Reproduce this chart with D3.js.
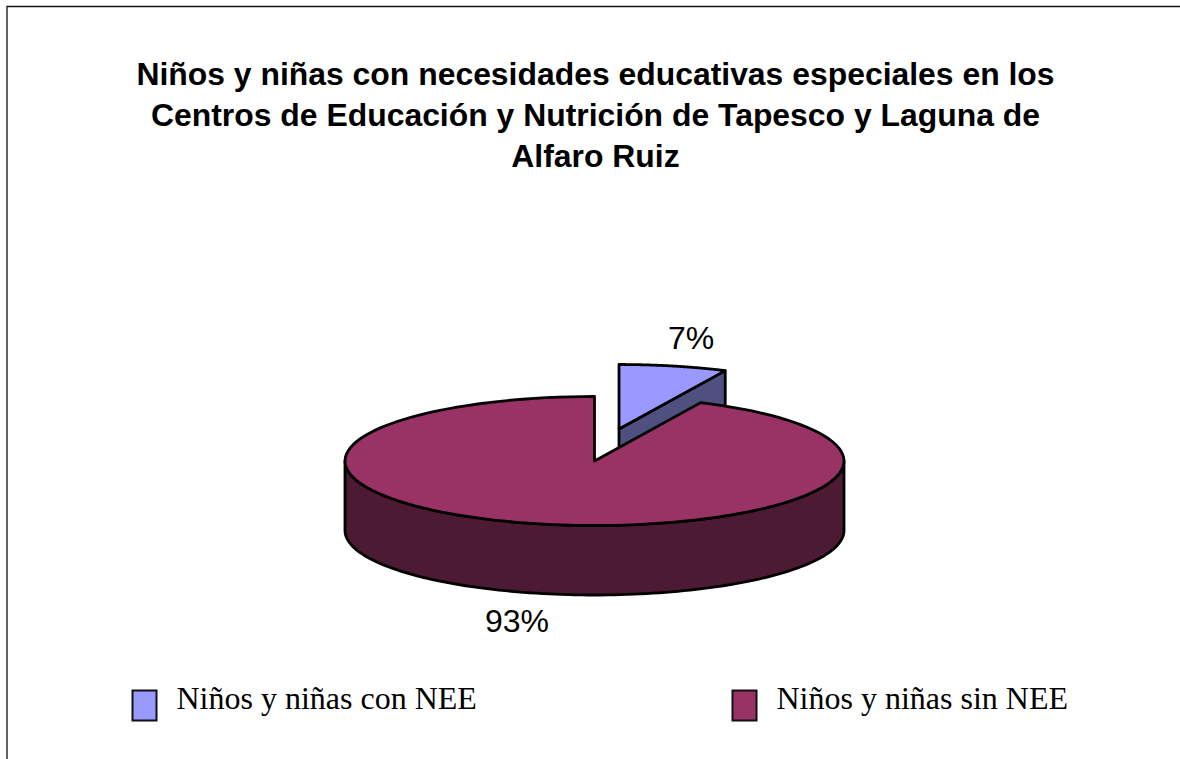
<!DOCTYPE html>
<html lang="es">
<head>
<meta charset="utf-8">
<title>Niños y niñas con NEE</title>
<script src="https://cdn.jsdelivr.net/npm/d3@7"></script>
<style>
html, body { margin: 0; padding: 0; background: #fff; }
svg { display: block; }
</style>
</head>
<body>
<svg id="chart" width="1180" height="759"></svg>
<script>
// Shares of children with and without special educational needs
const categories = ["Niños y niñas con NEE", "Niños y niñas sin NEE"];
const shares = [7, 93];
const shareLabels = ["7%", "93%"];
const topColors = ["#9999ff", "#993366"];
const sideColors = ["#4f4f80", "#4c1a33"];
const titleLines = [
  "Niños y niñas con necesidades educativas especiales en los",
  "Centros de Educación y Nutrición de Tapesco y Laguna de",
  "Alfaro Ruiz"
];

const svg = d3.select("#chart");
const ink = "#000";

// Outer frame: only the top and left edges fall inside the canvas
svg.append("path")
  .attr("d", "M7,759V6.5H1180")
  .attr("fill", "none").attr("stroke", "#111").attr("stroke-width", 1.3);

// Title
svg.append("g").selectAll("text").data(titleLines).join("text")
  .attr("x", 595.5)
  .attr("y", (d, i) => 85 + i * 41)
  .attr("text-anchor", "middle")
  .attr("font-family", "'Liberation Sans', Arial, sans-serif")
  .attr("font-weight", "bold")
  .attr("font-size", 31.9)
  .attr("fill", "#000")
  .text(d => d);

// Tilted pie: angles come from d3.pie, radii are squashed through two scales
const center = { x: 594.5, y: 461 };
const depth = 69.5;
const explode = { dx: 24.5, dy: -32 };
const rx = d3.scaleLinear().domain([0, 1]).range([0, 249.5]);
const ry = d3.scaleLinear().domain([0, 1]).range([0, 64.5]);

const slices = d3.pie().sort(null)(shares);

const project = (angle, ox, oy, drop = 0) => [
  ox + rx(Math.sin(angle)),
  oy - ry(Math.cos(angle)) + drop
];

const rimPoints = (a0, a1, ox, oy, drop = 0) =>
  d3.range(0, 121).map(i => project(a0 + (a1 - a0) * i / 120, ox, oy, drop));

const line = d3.line();
const pieGroup = svg.append("g")
  .attr("stroke", ink).attr("stroke-width", 2.8).attr("stroke-linejoin", "round");

// Small slice, pulled out: cut face first, then its top
{
  const s = slices[0];
  const ox = center.x + explode.dx, oy = center.y + explode.dy;
  const end = project(s.endAngle, ox, oy);
  pieGroup.append("path")
    .attr("d", line([[ox, oy], end, [end[0], end[1] + depth], [ox, oy + depth]]) + "Z")
    .attr("fill", sideColors[0]);
  pieGroup.append("path")
    .attr("d", line([[ox, oy], ...rimPoints(s.startAngle, s.endAngle, ox, oy)]) + "Z")
    .attr("fill", topColors[0]);
}

// Large slice: the visible outer wall spans the front half of the rim, then the top
{
  const s = slices[1];
  const ox = center.x, oy = center.y;
  const right = Math.PI / 2, left = Math.PI * 1.5;
  const upper = rimPoints(right, left, ox, oy);
  const lower = rimPoints(left, right, ox, oy, depth);
  pieGroup.append("path")
    .attr("d", line([...upper, ...lower]) + "Z")
    .attr("fill", sideColors[1]);
  pieGroup.append("path")
    .attr("d", line([[ox, oy], ...rimPoints(s.startAngle, s.endAngle, ox, oy)]) + "Z")
    .attr("fill", topColors[1]);
}

// Percentage labels
const labelPositions = [[691, 349], [517, 632]];
svg.append("g").selectAll("text").data(shareLabels).join("text")
  .attr("x", (d, i) => labelPositions[i][0])
  .attr("y", (d, i) => labelPositions[i][1])
  .attr("text-anchor", "middle")
  .attr("font-family", "'Liberation Sans', Arial, sans-serif")
  .attr("font-size", 32)
  .attr("fill", "#000")
  .text(d => d);

// Legend
const legendX = d3.scalePoint().domain(categories).range([132, 732]);
const legend = svg.append("g").selectAll("g").data(categories).join("g")
  .attr("transform", d => `translate(${legendX(d)},690)`);
legend.append("rect")
  .attr("x", 0.5).attr("y", 0.5)
  .attr("width", 24).attr("height", 30)
  .attr("fill", (d, i) => topColors[i])
  .attr("stroke", "#111").attr("stroke-width", 2);
legend.append("text")
  .attr("x", 44.5).attr("y", 19)
  .attr("font-family", "'Liberation Serif', 'Times New Roman', serif")
  .attr("font-size", 32)
  .attr("fill", "#000")
  .text(d => d);
</script>
</body>
</html>
